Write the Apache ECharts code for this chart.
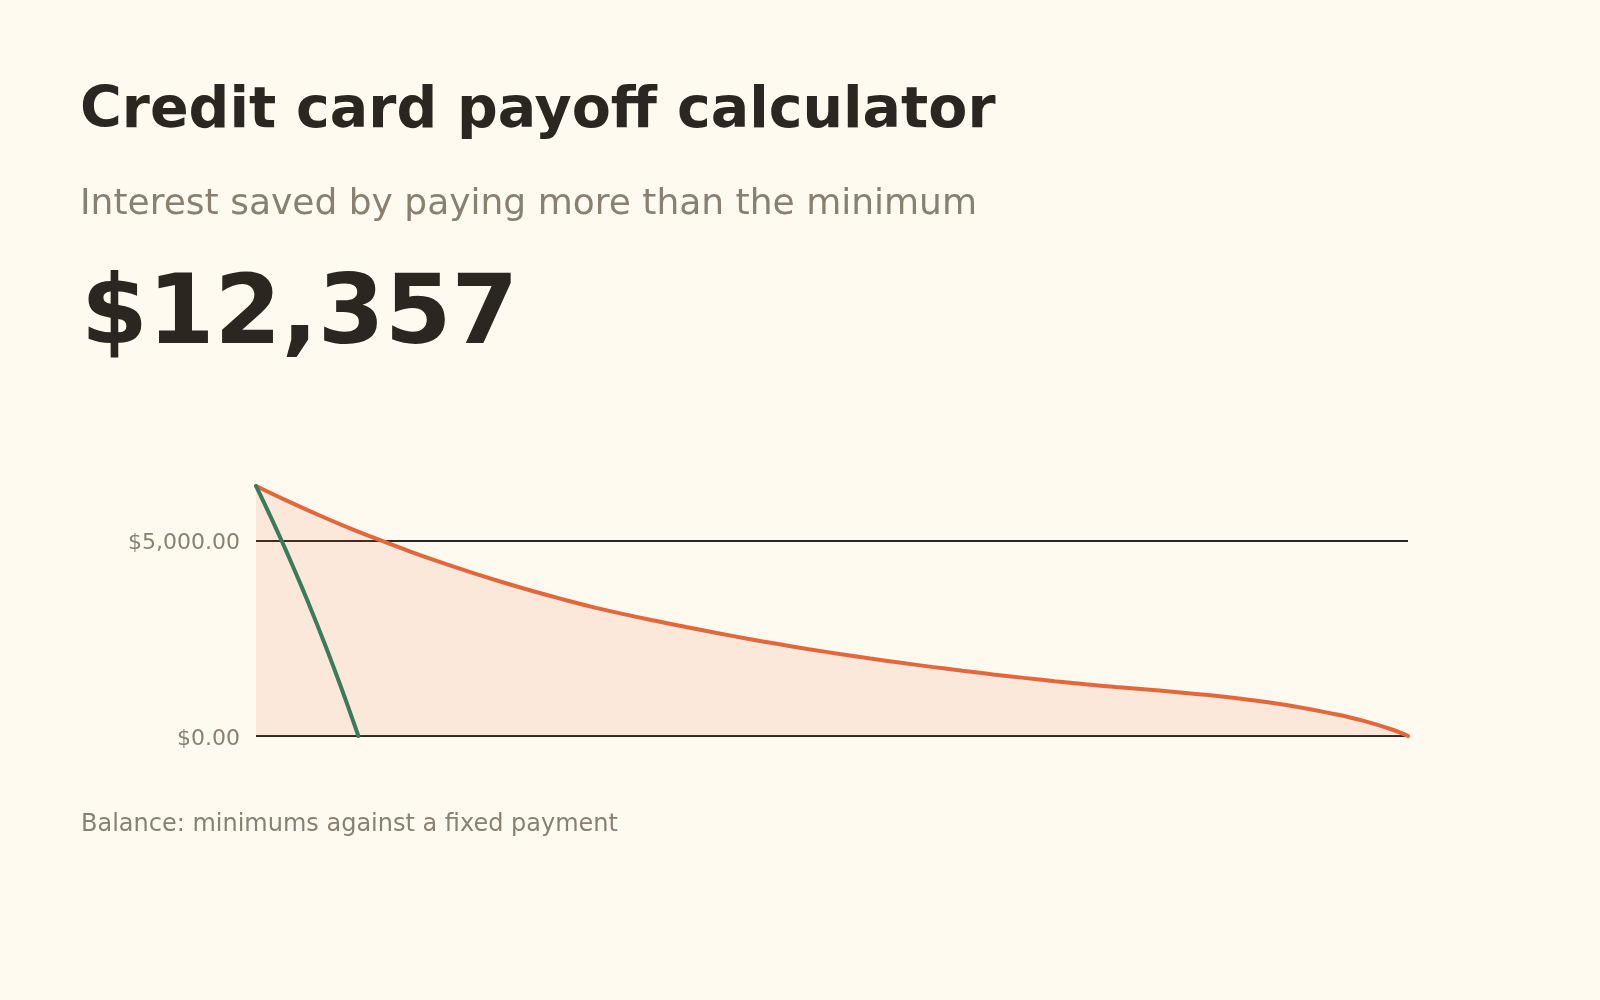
<!DOCTYPE html>
<html>
<head>
<meta charset="utf-8">
<title>Credit card payoff calculator</title>
<script src="https://cdn.jsdelivr.net/npm/echarts@6/dist/echarts.min.js"></script>
<style>
  html, body { margin: 0; padding: 0; background: #fffaf0; }
  #chart { width: 1600px; height: 1000px; }
</style>
</head>
<body>
<div id="chart"></div>
<script>
// months on the minimum-payment path and the balance
var minMonths = [0, 6, 12, 18, 24, 30, 36, 42, 48, 54, 60, 66, 72, 78, 84, 90, 96, 102, 108, 114,
  120, 126, 132, 138, 144, 150, 156, 162, 168, 174, 180, 186, 192, 198, 204, 210, 216, 222, 225];
var minBalance = [6400, 6025, 5670, 5335, 5025, 4728, 4450, 4188, 3942, 3712, 3496, 3294, 3114, 2949,
  2789, 2637, 2491, 2353, 2223, 2100, 1984, 1874, 1770, 1671, 1577, 1488, 1404, 1326, 1254, 1188,
  1122, 1048, 960, 855, 730, 580, 400, 160, 0];

// fixed payment path
var fixedMonths = [0, 2, 4, 6, 8, 10, 12, 14, 16, 18, 20];
var fixedBalance = [6400, 5852, 5288, 4706, 4103, 3479, 2832, 2162, 1467, 747, 0];

var yTicks = [0, 5000];

function pairs(xs, ys) {
  var out = [];
  for (var i = 0; i < xs.length; i++) out.push([xs[i], ys[i]]);
  return out;
}

function money(v) {
  return '$' + v.toLocaleString('en-US', { minimumFractionDigits: 2, maximumFractionDigits: 2 });
}

var chart = echarts.init(document.getElementById('chart'));

var option = {
  backgroundColor: '#fffaf0',
  animation: false,
  textStyle: { fontFamily: 'DejaVu Sans' },
  title: [
    {
      text: 'Credit card payoff calculator',
      left: 75, top: 79,
      textStyle: { fontFamily: 'DejaVu Sans', fontSize: 57, fontWeight: 'bold', color: '#2b2720' }
    },
    {
      text: 'Interest saved by paying more than the minimum',
      left: 75, top: 182,
      textStyle: { fontFamily: 'DejaVu Sans', fontSize: 36, fontWeight: 'normal', color: '#8a8072' }
    },
    {
      text: '$12,357',
      left: 76, top: 265,
      textStyle: { fontFamily: 'DejaVu Sans', fontSize: 96, fontWeight: 'bold', color: '#2b2720' }
    },
    {
      text: 'Balance: minimums against a fixed payment',
      left: 76, top: 808,
      textStyle: { fontFamily: 'DejaVu Sans', fontSize: 24, fontWeight: 'normal', color: '#8a8072' }
    }
  ],
  grid: { left: 256, right: 192, top: 486, bottom: 264 },
  xAxis: {
    type: 'value',
    min: 0,
    max: minMonths[minMonths.length - 1],
    show: false
  },
  yAxis: {
    type: 'value',
    min: yTicks[0],
    max: 'dataMax',
    interval: yTicks[1] - yTicks[0],
    axisLine: { show: false },
    axisTick: { show: false },
    axisLabel: {
      showMaxLabel: false,
      margin: 16,
      fontSize: 22,
      color: '#8a8072',
      fontFamily: 'DejaVu Sans',
      verticalAlign: 'top',
      lineHeight: 6,
      formatter: function (v) { return money(v); }
    },
    splitLine: {
      showMaxLine: false,
      lineStyle: { color: '#2b2720', width: 2 }
    }
  },
  series: [
    {
      name: 'Minimum payments',
      type: 'line',
      data: pairs(minMonths, minBalance),
      smooth: 0.4,
      showSymbol: false,
      lineStyle: { color: '#e2683b', width: 4, cap: 'round' },
      itemStyle: { color: '#e2683b' },
      areaStyle: { color: 'rgba(226,104,59,0.17)' },
      z: 2
    },
    {
      name: 'Fixed payment',
      type: 'line',
      data: pairs(fixedMonths, fixedBalance),
      smooth: 0.4,
      showSymbol: false,
      lineStyle: { color: '#3b7a5a', width: 4, cap: 'round' },
      itemStyle: { color: '#3b7a5a' },
      z: 3
    }
  ]
};

chart.setOption(option);
</script>
</body>
</html>
